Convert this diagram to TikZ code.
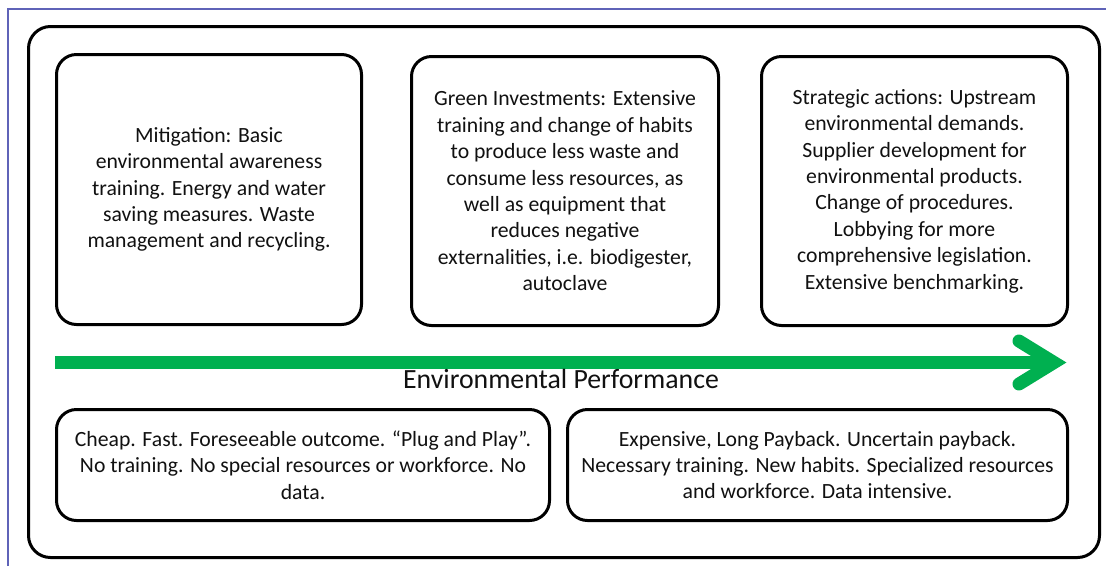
\documentclass[tikz,border=0pt]{standalone}
\usepackage{fontspec}
\setmainfont{Carlito}
\definecolor{arrowgreen}{HTML}{00B050}
\definecolor{framebluecol}{HTML}{5F63B8}
\definecolor{inkcol}{HTML}{111111}
\begin{document}
\begin{tikzpicture}[x=1pt,y=-1pt,
  panel/.style={draw=black, line width=3pt, rounded corners=20pt,
    inner sep=0pt, align=center, text=inkcol,
    font=\fontsize{21.7}{26.4}\selectfont},
  outerpanel/.style={draw=black, line width=3pt, rounded corners=22pt, inner sep=0pt},
  axislabel/.style={text=inkcol, font=\fontsize{27.8}{30}\selectfont, inner sep=0pt},
  flowline/.style={arrowgreen, line width=13pt},
  flowhead/.style={arrowgreen, line width=13pt, line cap=round, line join=miter}]
  % canvas
  \fill[white] (0,0) rectangle (1106,566);
  \useasboundingbox (0,0) rectangle (1106,566);
  % thin page frame
  \draw[framebluecol, line width=1.2pt] (8,566) -- (8,9) -- (1106,9);

  % enclosing panel
  \node[outerpanel, minimum width=1071pt, minimum height=531pt] (frame) at (564,292) {};

  % upper row: kinds of action
  \node[panel, minimum width=305pt, minimum height=270pt] (mitigation) at (209,189.5)
    {Mitigation: Basic\\environmental awareness\\training. Energy and water\\saving measures. Waste\\management and recycling.};
  \node[panel, minimum width=307pt, minimum height=269pt] (green) at (565,191)
    {Green Investments: Extensive\\training and change of habits\\to produce less waste and\\consume less resources, as\\well as equipment that\\reduces negative\\externalities, i.e. biodigester,\\autoclave};
  \node[panel, minimum width=306pt, minimum height=269pt] (strategic) at (914.5,191)
    {Strategic actions: Upstream\\environmental demands.\\Supplier development for\\environmental products.\\Change of procedures.\\Lobbying for more\\comprehensive legislation.\\Extensive benchmarking.};

  % performance axis
  \coordinate (axisstart) at (55,362.5);
  \coordinate (axistip) at (1054,362.5);
  \coordinate (barbup) at (1019,341);
  \coordinate (barbdown) at (1019,384);
  \draw[flowline] (axisstart) -- (axistip);
  \draw[flowhead] (barbup) -- (axistip) -- (barbdown);
  \node[axislabel, anchor=base] (axislbl) at (561,388.5) {Environmental Performance};

  % lower row: characteristics
  \node[panel, minimum width=493pt, minimum height=111pt] (cheap) at (303,465)
    {Cheap. Fast. Foreseeable outcome. “Plug and Play”.\\No training. No special resources or workforce. No\\data.};
  \node[panel, minimum width=500pt, minimum height=111pt] (expensive) at (817.5,465)
    {Expensive, Long Payback. Uncertain payback.\\Necessary training. New habits. Specialized resources\\and workforce. Data intensive.};
\end{tikzpicture}
\end{document}
